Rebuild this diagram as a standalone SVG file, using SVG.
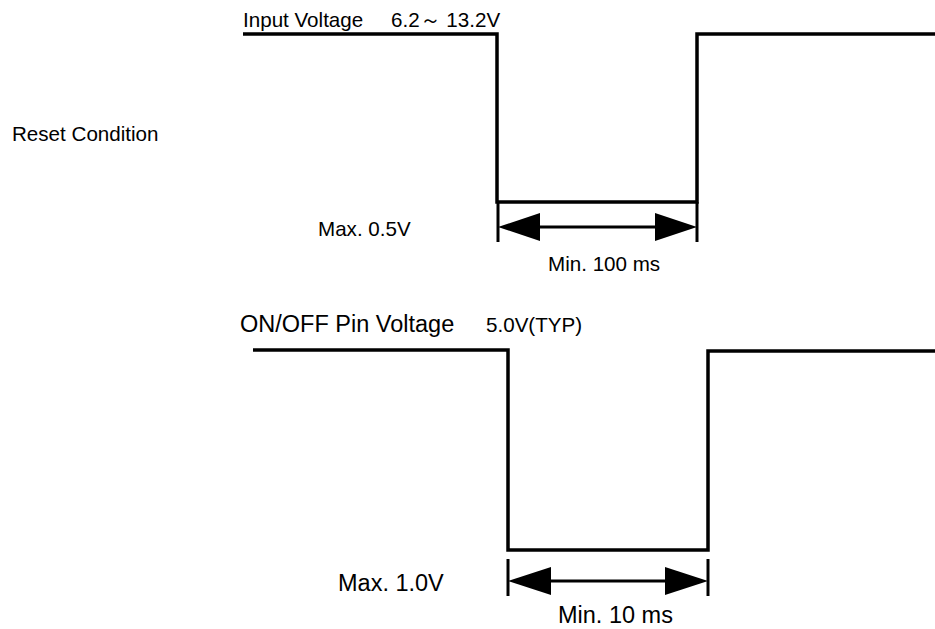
<svg xmlns="http://www.w3.org/2000/svg" width="935" height="629" viewBox="0 0 935 629">
<style>
text{font-family:"Liberation Sans",Arial,sans-serif;fill:#000}
.s{font-size:20.6px}
.l{font-size:23.5px}
.w{fill:none;stroke:#000;stroke-width:3.5;stroke-linejoin:miter}
.e{fill:none;stroke:#000;stroke-width:3}
.a{fill:none;stroke:#000;stroke-width:3}
.h{fill:#000;stroke:none}
</style>
<rect width="935" height="629" fill="#fff"/>
<g id="labels">
<text class="s" x="12" y="141">Reset Condition</text>
<text class="s" x="243" y="27">Input Voltage</text>
<text class="s" x="391" y="27">6.2～ 13.2V</text>
<text class="s" x="318" y="236">Max. 0.5V</text>
<text class="s" x="548" y="271">Min. 100 ms</text>
<text class="l" x="240" y="332">ON/OFF Pin Voltage</text>
<text class="s" x="486" y="332">5.0V(TYP)</text>
<text class="l" x="338" y="591">Max. 1.0V</text>
<text class="l" x="558" y="623">Min. 10 ms</text>
</g>
<g id="connectors">
<path id="wave-reset" class="w" d="M243,34 H497 V202 H697 V34 H935"/>
<path id="wave-onoff" class="w" d="M253,350 H508 V550 H708 V351 H935"/>
<g id="dim-100ms">
<line class="e" x1="498" y1="202" x2="498" y2="242"/>
<line class="e" x1="697" y1="202" x2="697" y2="242"/>
<line class="a" x1="530" y1="227" x2="665" y2="227"/>
<polygon class="h" points="498,227 540,213 540,241"/>
<polygon class="h" points="697,227 655,213 655,241"/>
</g>
<g id="dim-10ms">
<line class="e" x1="508" y1="559" x2="508" y2="596"/>
<line class="e" x1="708" y1="559" x2="708" y2="596"/>
<line class="a" x1="540" y1="581" x2="676" y2="581"/>
<polygon class="h" points="508,581 551,567 551,595"/>
<polygon class="h" points="708,581 665,567 665,595"/>
</g>
</g>
</svg>
